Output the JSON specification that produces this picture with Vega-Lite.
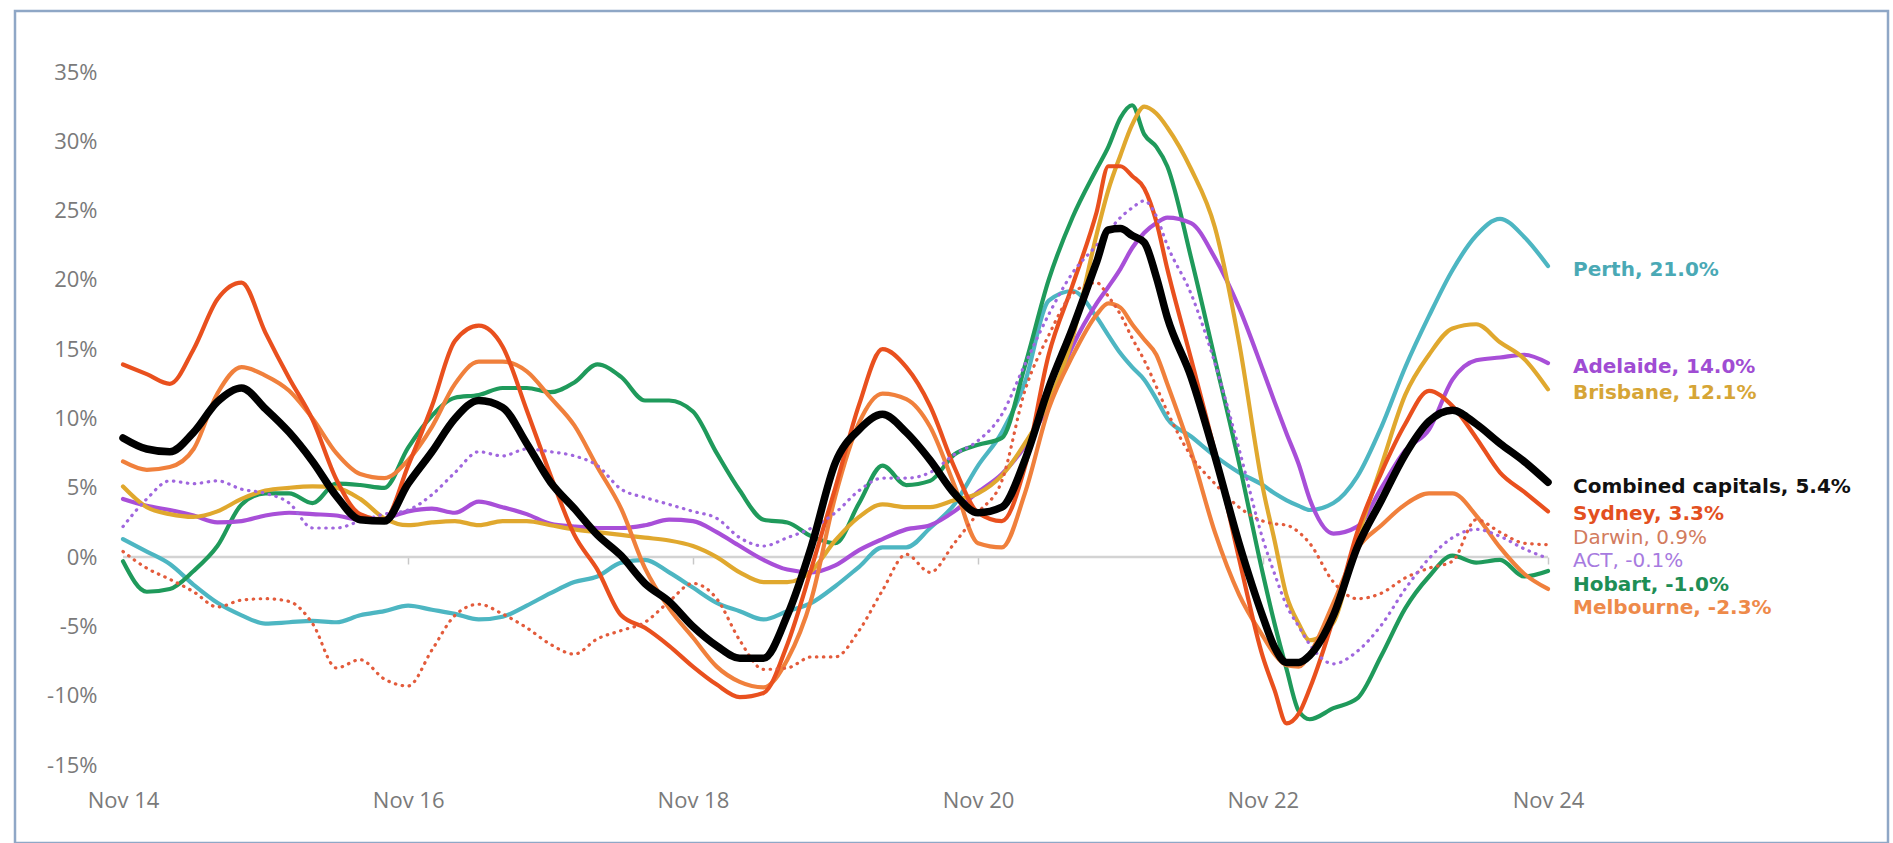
{
  "$schema": "https://vega.github.io/schema/vega-lite/v6.json",
  "width": 1873,
  "height": 832,
  "autosize": {"type": "none"},
  "padding": {"left": 15, "top": 11, "right": 5, "bottom": 0},
  "background": "white",
  "config": {
    "view": {"stroke": "#8FA7C6", "strokeWidth": 2.5},
    "font": "Open Sans",
    "axis": {"grid": false, "labelFont": "Open Sans", "labelFontSize": 22, "labelColor": "#7A7A7A"}
  },
  "datasets": {
    "series": [
      {"d":"2014/11/01","Sydney":13.9,"Melbourne":6.9,"Brisbane":5.1,"Adelaide":4.2,"Perth":1.3,"Hobart":-0.3,"Darwin":0.4,"ACT":2.2,"Combined capitals":8.6},
      {"d":"2015/01/01","Sydney":13.2,"Melbourne":6.3,"Brisbane":3.6,"Adelaide":3.7,"Perth":0.4,"Hobart":-2.5,"Darwin":-0.8,"ACT":4.2,"Combined capitals":7.8},
      {"d":"2015/03/01","Sydney":12.5,"Melbourne":6.5,"Brisbane":3.1,"Adelaide":3.4,"Perth":-0.5,"Hobart":-2.3,"Darwin":-1.6,"ACT":5.5,"Combined capitals":7.6},
      {"d":"2015/05/01","Sydney":15.0,"Melbourne":7.8,"Brisbane":2.9,"Adelaide":3.0,"Perth":-2.0,"Hobart":-1.0,"Darwin":-2.5,"ACT":5.3,"Combined capitals":9.0},
      {"d":"2015/07/01","Sydney":18.6,"Melbourne":11.8,"Brisbane":3.3,"Adelaide":2.5,"Perth":-3.3,"Hobart":0.8,"Darwin":-3.6,"ACT":5.5,"Combined capitals":11.2},
      {"d":"2015/09/01","Sydney":19.8,"Melbourne":13.7,"Brisbane":4.2,"Adelaide":2.6,"Perth":-4.2,"Hobart":3.8,"Darwin":-3.1,"ACT":4.9,"Combined capitals":12.2},
      {"d":"2015/11/01","Sydney":16.2,"Melbourne":13.1,"Brisbane":4.8,"Adelaide":3.0,"Perth":-4.8,"Hobart":4.6,"Darwin":-3.0,"ACT":4.6,"Combined capitals":10.7},
      {"d":"2016/01/01","Sydney":12.9,"Melbourne":12.0,"Brisbane":5.0,"Adelaide":3.2,"Perth":-4.7,"Hobart":4.6,"Darwin":-3.2,"ACT":3.9,"Combined capitals":9.0},
      {"d":"2016/03/01","Sydney":9.9,"Melbourne":10.0,"Brisbane":5.1,"Adelaide":3.1,"Perth":-4.6,"Hobart":3.9,"Darwin":-4.8,"ACT":2.1,"Combined capitals":6.9},
      {"d":"2016/05/01","Sydney":5.6,"Melbourne":7.5,"Brisbane":5.0,"Adelaide":3.0,"Perth":-4.7,"Hobart":5.3,"Darwin":-8.0,"ACT":2.1,"Combined capitals":4.4},
      {"d":"2016/07/01","Sydney":3.1,"Melbourne":6.0,"Brisbane":4.2,"Adelaide":2.7,"Perth":-4.2,"Hobart":5.2,"Darwin":-7.4,"ACT":2.6,"Combined capitals":2.7},
      {"d":"2016/09/01","Sydney":2.7,"Melbourne":5.7,"Brisbane":2.8,"Adelaide":2.8,"Perth":-3.9,"Hobart":5.0,"Darwin":-8.8,"ACT":3.1,"Combined capitals":2.6},
      {"d":"2016/11/01","Sydney":6.6,"Melbourne":7.0,"Brisbane":2.3,"Adelaide":3.3,"Perth":-3.5,"Hobart":7.9,"Darwin":-9.3,"ACT":3.4,"Combined capitals":5.3},
      {"d":"2017/01/01","Sydney":10.9,"Melbourne":9.4,"Brisbane":2.5,"Adelaide":3.5,"Perth":-3.8,"Hobart":10.2,"Darwin":-6.7,"ACT":4.5,"Combined capitals":7.6},
      {"d":"2017/03/01","Sydney":15.6,"Melbourne":12.5,"Brisbane":2.6,"Adelaide":3.2,"Perth":-4.1,"Hobart":11.5,"Darwin":-4.2,"ACT":6.1,"Combined capitals":10.0},
      {"d":"2017/05/01","Sydney":16.7,"Melbourne":14.1,"Brisbane":2.3,"Adelaide":4.0,"Perth":-4.5,"Hobart":11.7,"Darwin":-3.4,"ACT":7.6,"Combined capitals":11.3},
      {"d":"2017/07/01","Sydney":15.2,"Melbourne":14.1,"Brisbane":2.6,"Adelaide":3.6,"Perth":-4.3,"Hobart":12.2,"Darwin":-4.1,"ACT":7.3,"Combined capitals":10.8},
      {"d":"2017/09/01","Sydney":10.6,"Melbourne":13.4,"Brisbane":2.6,"Adelaide":3.1,"Perth":-3.5,"Hobart":12.2,"Darwin":-5.1,"ACT":7.8,"Combined capitals":8.2},
      {"d":"2017/11/01","Sydney":5.9,"Melbourne":11.5,"Brisbane":2.3,"Adelaide":2.4,"Perth":-2.6,"Hobart":11.9,"Darwin":-6.3,"ACT":7.6,"Combined capitals":5.4},
      {"d":"2018/01/01","Sydney":1.6,"Melbourne":9.5,"Brisbane":2.0,"Adelaide":2.2,"Perth":-1.8,"Hobart":12.6,"Darwin":-7.0,"ACT":7.3,"Combined capitals":3.5},
      {"d":"2018/03/01","Sydney":-0.9,"Melbourne":6.5,"Brisbane":1.8,"Adelaide":2.1,"Perth":-1.4,"Hobart":13.9,"Darwin":-5.9,"ACT":6.6,"Combined capitals":1.6},
      {"d":"2018/05/01","Sydney":-4.2,"Melbourne":3.5,"Brisbane":1.6,"Adelaide":2.1,"Perth":-0.4,"Hobart":13.0,"Darwin":-5.3,"ACT":4.9,"Combined capitals":0.1},
      {"d":"2018/07/01","Sydney":-5.1,"Melbourne":-0.8,"Brisbane":1.4,"Adelaide":2.3,"Perth":-0.2,"Hobart":11.3,"Darwin":-4.7,"ACT":4.3,"Combined capitals":-1.9},
      {"d":"2018/09/01","Sydney":-6.4,"Melbourne":-3.7,"Brisbane":1.2,"Adelaide":2.7,"Perth":-1.1,"Hobart":11.3,"Darwin":-3.2,"ACT":3.8,"Combined capitals":-3.2},
      {"d":"2018/11/01","Sydney":-7.9,"Melbourne":-5.8,"Brisbane":0.8,"Adelaide":2.6,"Perth":-2.2,"Hobart":10.5,"Darwin":-1.9,"ACT":3.3,"Combined capitals":-5.0},
      {"d":"2019/01/01","Sydney":-9.2,"Melbourne":-7.9,"Brisbane":0.0,"Adelaide":1.8,"Perth":-3.3,"Hobart":7.5,"Darwin":-3.0,"ACT":2.8,"Combined capitals":-6.4},
      {"d":"2019/03/01","Sydney":-10.1,"Melbourne":-9.0,"Brisbane":-1.1,"Adelaide":0.8,"Perth":-3.9,"Hobart":4.8,"Darwin":-6.0,"ACT":1.4,"Combined capitals":-7.3},
      {"d":"2019/05/01","Sydney":-9.8,"Melbourne":-9.4,"Brisbane":-1.8,"Adelaide":-0.2,"Perth":-4.5,"Hobart":2.7,"Darwin":-8.1,"ACT":0.8,"Combined capitals":-7.3},
      {"d":"2019/07/01","Sydney":-6.3,"Melbourne":-7.4,"Brisbane":-1.8,"Adelaide":-0.9,"Perth":-3.9,"Hobart":2.5,"Darwin":-8.0,"ACT":1.4,"Combined capitals":-4.2},
      {"d":"2019/09/01","Sydney":-0.8,"Melbourne":-3.0,"Brisbane":-1.0,"Adelaide":-1.1,"Perth":-3.3,"Hobart":1.5,"Darwin":-7.2,"ACT":2.1,"Combined capitals":0.8},
      {"d":"2019/11/01","Sydney":5.0,"Melbourne":4.4,"Brisbane":1.2,"Adelaide":-0.6,"Perth":-2.1,"Hobart":1.0,"Darwin":-7.2,"ACT":3.2,"Combined capitals":6.8},
      {"d":"2020/01/01","Sydney":11.0,"Melbourne":9.7,"Brisbane":2.9,"Adelaide":0.5,"Perth":-0.7,"Hobart":3.9,"Darwin":-5.3,"ACT":4.8,"Combined capitals":9.2},
      {"d":"2020/03/01","Sydney":15.0,"Melbourne":11.8,"Brisbane":3.8,"Adelaide":1.3,"Perth":0.7,"Hobart":6.6,"Darwin":-2.4,"ACT":5.7,"Combined capitals":10.3},
      {"d":"2020/05/01","Sydney":13.7,"Melbourne":11.4,"Brisbane":3.6,"Adelaide":2.0,"Perth":0.7,"Hobart":5.2,"Darwin":0.2,"ACT":5.7,"Combined capitals":9.0},
      {"d":"2020/07/01","Sydney":10.9,"Melbourne":9.4,"Brisbane":3.6,"Adelaide":2.3,"Perth":2.1,"Hobart":5.5,"Darwin":-1.1,"ACT":6.1,"Combined capitals":7.0},
      {"d":"2020/09/01","Sydney":6.5,"Melbourne":5.2,"Brisbane":4.1,"Adelaide":3.3,"Perth":3.8,"Hobart":7.4,"Darwin":1.0,"ACT":7.4,"Combined capitals":4.6},
      {"d":"2020/11/01","Sydney":3.2,"Melbourne":1.0,"Brisbane":4.6,"Adelaide":4.7,"Perth":6.6,"Hobart":8.1,"Darwin":3.2,"ACT":8.4,"Combined capitals":3.2},
      {"d":"2021/01/01","Sydney":2.6,"Melbourne":0.7,"Brisbane":5.9,"Adelaide":6.0,"Perth":9.0,"Hobart":8.6,"Darwin":5.5,"ACT":10.3,"Combined capitals":3.6},
      {"d":"2021/03/01","Sydney":6.5,"Melbourne":4.6,"Brisbane":8.2,"Adelaide":8.0,"Perth":12.6,"Hobart":13.8,"Darwin":12.0,"ACT":13.9,"Combined capitals":7.0},
      {"d":"2021/05/01","Sydney":14.6,"Melbourne":10.7,"Brisbane":11.2,"Adelaide":11.0,"Perth":18.5,"Hobart":20.0,"Darwin":16.0,"ACT":17.5,"Combined capitals":12.2},
      {"d":"2021/07/01","Sydney":19.6,"Melbourne":14.5,"Brisbane":15.8,"Adelaide":15.2,"Perth":19.2,"Hobart":24.5,"Darwin":19.0,"ACT":20.5,"Combined capitals":16.5},
      {"d":"2021/09/01","Sydney":24.9,"Melbourne":17.5,"Brisbane":23.3,"Adelaide":18.3,"Perth":17.3,"Hobart":28.0,"Darwin":19.8,"ACT":22.5,"Combined capitals":21.3},
      {"d":"2021/10/01","Sydney":28.2,"Melbourne":18.3,"Brisbane":26.5,"Adelaide":19.5,"Perth":16.0,"Hobart":29.6,"Darwin":18.8,"ACT":23.5,"Combined capitals":23.6},
      {"d":"2021/11/01","Sydney":28.2,"Melbourne":18.0,"Brisbane":29.0,"Adelaide":20.8,"Perth":14.7,"Hobart":31.7,"Darwin":17.5,"ACT":24.5,"Combined capitals":23.7},
      {"d":"2021/12/01","Sydney":27.5,"Melbourne":16.8,"Brisbane":31.2,"Adelaide":22.3,"Perth":13.7,"Hobart":32.6,"Darwin":15.8,"ACT":25.2,"Combined capitals":23.2},
      {"d":"2022/01/01","Sydney":26.6,"Melbourne":15.7,"Brisbane":32.5,"Adelaide":23.4,"Perth":12.8,"Hobart":30.5,"Darwin":14.2,"ACT":25.7,"Combined capitals":22.7},
      {"d":"2022/02/01","Sydney":24.2,"Melbourne":14.6,"Brisbane":32.0,"Adelaide":24.1,"Perth":11.4,"Hobart":29.6,"Darwin":12.3,"ACT":24.6,"Combined capitals":20.2},
      {"d":"2022/03/01","Sydney":20.8,"Melbourne":12.5,"Brisbane":31.0,"Adelaide":24.5,"Perth":10.0,"Hobart":28.2,"Darwin":10.5,"ACT":22.5,"Combined capitals":17.3},
      {"d":"2022/05/01","Sydney":14.3,"Melbourne":7.6,"Brisbane":28.0,"Adelaide":24.1,"Perth":8.7,"Hobart":21.6,"Darwin":7.3,"ACT":19.0,"Combined capitals":13.0},
      {"d":"2022/07/01","Sydney":7.6,"Melbourne":1.8,"Brisbane":23.8,"Adelaide":21.6,"Perth":7.3,"Hobart":14.3,"Darwin":5.3,"ACT":14.0,"Combined capitals":7.3},
      {"d":"2022/09/01","Sydney":-0.1,"Melbourne":-2.7,"Brisbane":15.5,"Adelaide":18.0,"Perth":6.1,"Hobart":6.8,"Darwin":3.6,"ACT":7.8,"Combined capitals":1.0},
      {"d":"2022/11/01","Sydney":-7.2,"Melbourne":-5.7,"Brisbane":5.0,"Adelaide":13.5,"Perth":5.2,"Hobart":-1.2,"Darwin":2.6,"ACT":1.3,"Combined capitals":-4.3},
      {"d":"2022/12/01","Sydney":-9.6,"Melbourne":-7.0,"Brisbane":1.2,"Adelaide":11.2,"Perth":4.6,"Hobart":-4.8,"Darwin":2.4,"ACT":-1.2,"Combined capitals":-6.5},
      {"d":"2023/01/01","Sydney":-12.0,"Melbourne":-7.8,"Brisbane":-2.8,"Adelaide":8.9,"Perth":4.1,"Hobart":-8.1,"Darwin":2.3,"ACT":-3.5,"Combined capitals":-7.6},
      {"d":"2023/02/01","Sydney":-11.3,"Melbourne":-7.9,"Brisbane":-4.8,"Adelaide":6.7,"Perth":3.7,"Hobart":-11.1,"Darwin":1.8,"ACT":-5.0,"Combined capitals":-7.6},
      {"d":"2023/03/01","Sydney":-9.5,"Melbourne":-7.0,"Brisbane":-6.0,"Adelaide":4.2,"Perth":3.4,"Hobart":-11.7,"Darwin":1.0,"ACT":-6.3,"Combined capitals":-7.1},
      {"d":"2023/05/01","Sydney":-4.4,"Melbourne":-3.3,"Brisbane":-4.7,"Adelaide":1.7,"Perth":3.9,"Hobart":-10.9,"Darwin":-1.8,"ACT":-7.7,"Combined capitals":-4.2},
      {"d":"2023/07/01","Sydney":1.8,"Melbourne":0.6,"Brisbane":1.3,"Adelaide":2.2,"Perth":5.8,"Hobart":-10.2,"Darwin":-3.0,"ACT":-6.8,"Combined capitals":0.7},
      {"d":"2023/09/01","Sydney":6.1,"Melbourne":2.3,"Brisbane":6.6,"Adelaide":5.0,"Perth":9.4,"Hobart":-7.1,"Darwin":-2.6,"ACT":-4.9,"Combined capitals":4.1},
      {"d":"2023/11/01","Sydney":9.6,"Melbourne":3.8,"Brisbane":11.7,"Adelaide":7.7,"Perth":13.7,"Hobart":-3.7,"Darwin":-1.5,"ACT":-2.3,"Combined capitals":7.4},
      {"d":"2024/01/01","Sydney":12.0,"Melbourne":4.6,"Brisbane":14.6,"Adelaide":9.2,"Perth":17.4,"Hobart":-1.4,"Darwin":-0.8,"ACT":-0.1,"Combined capitals":9.8},
      {"d":"2024/03/01","Sydney":10.9,"Melbourne":4.6,"Brisbane":16.5,"Adelaide":12.8,"Perth":20.7,"Hobart":0.1,"Darwin":-0.3,"ACT":1.4,"Combined capitals":10.6},
      {"d":"2024/05/01","Sydney":8.6,"Melbourne":3.0,"Brisbane":16.8,"Adelaide":14.2,"Perth":23.2,"Hobart":-0.4,"Darwin":2.7,"ACT":2.0,"Combined capitals":9.6},
      {"d":"2024/07/01","Sydney":6.1,"Melbourne":0.7,"Brisbane":15.5,"Adelaide":14.4,"Perth":24.4,"Hobart":-0.2,"Darwin":1.8,"ACT":1.5,"Combined capitals":8.2},
      {"d":"2024/09/01","Sydney":4.7,"Melbourne":-1.2,"Brisbane":14.3,"Adelaide":14.6,"Perth":23.1,"Hobart":-1.4,"Darwin":1.0,"ACT":0.6,"Combined capitals":6.9},
      {"d":"2024/11/01","Sydney":3.3,"Melbourne":-2.3,"Brisbane":12.1,"Adelaide":14.0,"Perth":21.0,"Hobart":-1.0,"Darwin":0.9,"ACT":-0.1,"Combined capitals":5.4}
    ],
    "labels": [
      {"city":"Perth","t":"Perth, 21.0%","ly":20.72,"bold":true},
      {"city":"Adelaide","t":"Adelaide, 14.0%","ly":13.72,"bold":true},
      {"city":"Brisbane","t":"Brisbane, 12.1%","ly":11.84,"bold":true},
      {"city":"Combined capitals","t":"Combined capitals, 5.4%","ly":5.05,"bold":true},
      {"city":"Sydney","t":"Sydney, 3.3%","ly":3.1,"bold":true},
      {"city":"Darwin","t":"Darwin, 0.9%","ly":1.41,"bold":false},
      {"city":"ACT","t":"ACT, -0.1%","ly":-0.29,"bold":false},
      {"city":"Hobart","t":"Hobart, -1.0%","ly":-1.99,"bold":true},
      {"city":"Melbourne","t":"Melbourne, -2.3%","ly":-3.68,"bold":true}
    ]
  },
  "layer": [
    {
      "data": {"values": [{"d": "2014/11/01", "d2": "2024/11/01", "v": 0}]},
      "mark": {"type": "rule", "color": "#D3D3D3", "strokeWidth": 2.5},
      "encoding": {
        "x": {"field": "d", "type": "temporal",
          "scale": {"type": "time", "domain": [{"year": 2014, "month": 11, "date": 1}, {"year": 2024, "month": 11, "date": 1}], "range": [108, 1533], "nice": false},
          "axis": {"orient": "bottom", "offset": -286, "labels": false, "ticks": true, "tickSize": 7, "tickWidth": 1.5, "tickColor": "#C8C8C8", "domain": false, "title": null,
            "values": [{"year": 2016, "month": 11, "date": 1}, {"year": 2018, "month": 11, "date": 1}, {"year": 2020, "month": 11, "date": 1}, {"year": 2022, "month": 11, "date": 1}, {"year": 2024, "month": 11, "date": 1}]}},
        "x2": {"field": "d2"},
        "y": {"field": "v", "type": "quantitative",
          "scale": {"domain": [-15, 35], "range": [754, 61], "nice": false, "zero": false},
          "axis": {"orient": "left", "offset": -82, "values": [-15, -10, -5, 0, 5, 10, 15, 20, 25, 30, 35], "labelExpr": "datum.value + '%'", "labelPadding": 0, "labelFlush": false, "labelOverlap": false, "ticks": false, "tickSize": 0, "domain": false, "grid": false, "title": null, "labelFontSize": 22, "labelColor": "#7A7A7A", "labelAlign": "right", "labelBaseline": "middle"}}
      }
    },
    {
      "data": {"name": "series"},
      "transform": [{"fold": ["Perth", "Hobart", "Adelaide", "Brisbane", "Melbourne", "Sydney"], "as": ["city", "v"]}],
      "mark": {"type": "line", "strokeWidth": 4.2, "strokeJoin": "round", "strokeCap": "round", "interpolate": "monotone"},
      "encoding": {
        "x": {"field": "d", "type": "temporal", "axis": null},
        "y": {"field": "v", "type": "quantitative",
          "axis": {"orient": "left", "offset": -82, "values": [-15, -10, -5, 0, 5, 10, 15, 20, 25, 30, 35], "labelExpr": "datum.value + '%'", "labelPadding": 0, "labelFlush": false, "labelOverlap": false, "ticks": false, "tickSize": 0, "domain": false, "grid": false, "title": null, "labelFontSize": 22, "labelColor": "#7A7A7A", "labelAlign": "right", "labelBaseline": "middle"}},
        "color": {"field": "city", "type": "nominal", "legend": null,
          "scale": {"domain": ["Sydney", "Melbourne", "Brisbane", "Adelaide", "Perth", "Hobart", "Darwin", "ACT", "Combined capitals"],
                    "range": ["#E9501E", "#F0803C", "#E0A82E", "#A84FD8", "#4DB6C2", "#1F9A5B", "#E35B3B", "#A066DE", "#000000"]}}
      }
    },
    {
      "data": {"name": "series"},
      "transform": [{"fold": ["Darwin", "ACT"], "as": ["city", "v"]}],
      "mark": {"type": "line", "strokeWidth": 3.2, "strokeCap": "round", "strokeDash": [0.5, 6.5], "interpolate": "monotone"},
      "encoding": {
        "x": {"field": "d", "type": "temporal", "axis": null},
        "y": {"field": "v", "type": "quantitative",
          "axis": {"orient": "left", "offset": -82, "values": [-15, -10, -5, 0, 5, 10, 15, 20, 25, 30, 35], "labelExpr": "datum.value + '%'", "labelPadding": 0, "labelFlush": false, "labelOverlap": false, "ticks": false, "tickSize": 0, "domain": false, "grid": false, "title": null, "labelFontSize": 22, "labelColor": "#7A7A7A", "labelAlign": "right", "labelBaseline": "middle"}},
        "color": {"field": "city", "type": "nominal", "legend": null,
          "scale": {"domain": ["Sydney", "Melbourne", "Brisbane", "Adelaide", "Perth", "Hobart", "Darwin", "ACT", "Combined capitals"],
                    "range": ["#E9501E", "#F0803C", "#E0A82E", "#A84FD8", "#4DB6C2", "#1F9A5B", "#E35B3B", "#A066DE", "#000000"]}}
      }
    },
    {
      "data": {"name": "series"},
      "transform": [{"fold": ["Combined capitals"], "as": ["city", "v"]}],
      "mark": {"type": "line", "strokeWidth": 7.5, "strokeJoin": "round", "strokeCap": "round", "color": "#000000", "interpolate": "monotone"},
      "encoding": {
        "x": {"field": "d", "type": "temporal",
          "axis": {"orient": "bottom", "offset": -43, "format": "%b %y", "formatType": "time", "labelBaseline": "middle", "labelPadding": 0, "labelDx": 5, "labelFlush": false, "labelOverlap": false, "ticks": false, "tickSize": 0, "domain": false, "title": null, "labelFontSize": 22, "labelColor": "#7A7A7A",
            "values": [{"year": 2014, "month": 11, "date": 1}, {"year": 2016, "month": 11, "date": 1}, {"year": 2018, "month": 11, "date": 1}, {"year": 2020, "month": 11, "date": 1}, {"year": 2022, "month": 11, "date": 1}, {"year": 2024, "month": 11, "date": 1}]}},
        "y": {"field": "v", "type": "quantitative",
          "axis": {"orient": "left", "offset": -82, "values": [-15, -10, -5, 0, 5, 10, 15, 20, 25, 30, 35], "labelExpr": "datum.value + '%'", "labelPadding": 0, "labelFlush": false, "labelOverlap": false, "ticks": false, "tickSize": 0, "domain": false, "grid": false, "title": null, "labelFontSize": 22, "labelColor": "#7A7A7A", "labelAlign": "right", "labelBaseline": "middle"}}
      }
    },
    {
      "data": {"name": "labels"},
      "transform": [{"filter": "datum.bold"}],
      "mark": {"type": "text", "align": "left", "baseline": "middle", "dx": 25, "font": "DejaVu Sans", "fontSize": 20, "fontWeight": "bold"},
      "encoding": {
        "x": {"datum": {"year": 2024, "month": 11, "date": 1}, "type": "temporal", "axis": null},
        "y": {"field": "ly", "type": "quantitative",
          "axis": {"orient": "left", "offset": -82, "values": [-15, -10, -5, 0, 5, 10, 15, 20, 25, 30, 35], "labelExpr": "datum.value + '%'", "labelPadding": 0, "labelFlush": false, "labelOverlap": false, "ticks": false, "tickSize": 0, "domain": false, "grid": false, "title": null, "labelFontSize": 22, "labelColor": "#7A7A7A", "labelAlign": "right", "labelBaseline": "middle"}},
        "text": {"field": "t", "type": "nominal"},
        "color": {"field": "city", "type": "nominal", "legend": null,
          "scale": {"domain": ["Perth", "Adelaide", "Brisbane", "Combined capitals", "Sydney", "Darwin", "ACT", "Hobart", "Melbourne"],
                    "range": ["#4AA9B5", "#A04CD3", "#D6A536", "#111111", "#E3501F", "#D27B5E", "#A77BE0", "#1E8E55", "#EE8A4A"]}}
      }
    },
    {
      "data": {"name": "labels"},
      "transform": [{"filter": "!datum.bold"}],
      "mark": {"type": "text", "align": "left", "baseline": "middle", "dx": 25, "font": "DejaVu Sans", "fontSize": 20, "fontWeight": "normal"},
      "encoding": {
        "x": {"datum": {"year": 2024, "month": 11, "date": 1}, "type": "temporal", "axis": null},
        "y": {"field": "ly", "type": "quantitative",
          "axis": {"orient": "left", "offset": -82, "values": [-15, -10, -5, 0, 5, 10, 15, 20, 25, 30, 35], "labelExpr": "datum.value + '%'", "labelPadding": 0, "labelFlush": false, "labelOverlap": false, "ticks": false, "tickSize": 0, "domain": false, "grid": false, "title": null, "labelFontSize": 22, "labelColor": "#7A7A7A", "labelAlign": "right", "labelBaseline": "middle"}},
        "text": {"field": "t", "type": "nominal"},
        "color": {"field": "city", "type": "nominal", "legend": null,
          "scale": {"domain": ["Perth", "Adelaide", "Brisbane", "Combined capitals", "Sydney", "Darwin", "ACT", "Hobart", "Melbourne"],
                    "range": ["#4AA9B5", "#A04CD3", "#D6A536", "#111111", "#E3501F", "#D27B5E", "#A77BE0", "#1E8E55", "#EE8A4A"]}}
      }
    }
  ],
  "resolve": {"axis": {"x": "independent"}, "scale": {"color": "independent"}}
}
